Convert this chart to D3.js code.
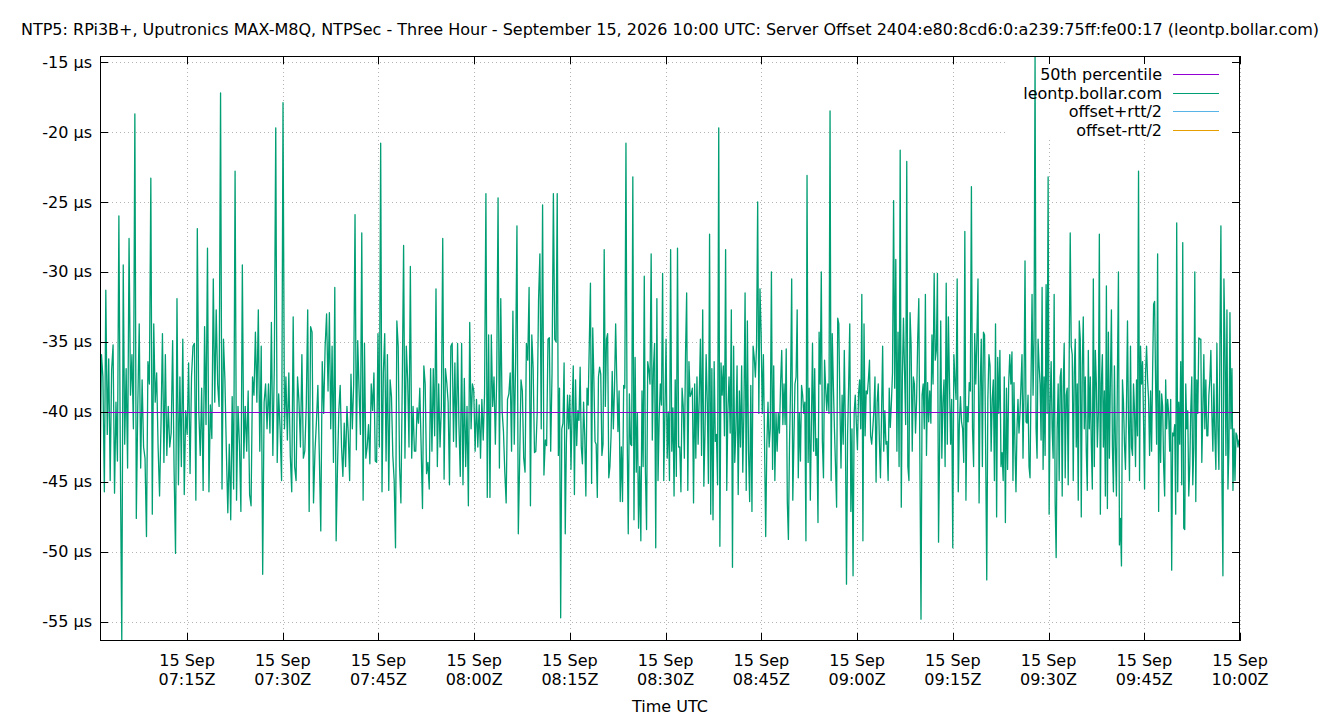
<!DOCTYPE html>
<html>
<head>
<meta charset="utf-8">
<script src="https://cdn.jsdelivr.net/npm/d3@7"></script>
<style>
  body { margin: 0; background: #fff; }
  text { font-family: "DejaVu Sans", sans-serif; font-size: 16px; fill: #000; }
</style>
</head>
<body>
<svg id="chart" width="1340" height="720"></svg>
<script>
const title = "NTP5: RPi3B+, Uputronics MAX-M8Q, NTPSec - Three Hour - September 15, 2026 10:00 UTC: Server Offset 2404:e80:8cd6:0:a239:75ff:fe00:17 (leontp.bollar.com)";
const seriesNames = ["50th percentile", "leontp.bollar.com", "offset+rtt/2", "offset-rtt/2"];
const seriesColors = ["#9400d3", "#009e73", "#56b4e9", "#e69f00"];

// offset samples (µs) in five consecutive time blocks
const blockStarts = ["2026-09-15T07:01:22Z", "2026-09-15T07:37:06Z", "2026-09-15T08:12:50Z", "2026-09-15T08:48:33Z", "2026-09-15T09:24:16Z", "2026-09-15T10:00:00Z"];

const block1 = [-45.5, -35.9, -37.5, -45.7, -31.3, -41.6, -36.2, -44.9, -37.0, -35.2, -45.8, -39.3, -43.5, -26.0, -43.3, -56.36, -29.5, -42.3, -36.9, -44.0,
  -27.6, -38.8, -35.9, -41.2, -18.7, -47.6, -39.6, -33.7, -44.0, -37.7, -42.5, -43.3, -48.9, -36.4, -38.0, -23.3, -47.3, -33.7, -39.3, -37.2,
  -42.5, -46.0, -40.9, -34.4, -43.6, -35.9, -43.1, -39.6, -42.5, -41.5, -34.9, -44.1, -50.1, -31.9, -45.2, -37.5, -43.9, -34.8, -45.9, -39.9,
  -41.6, -36.5, -44.4, -37.5, -35.3, -35.1, -46.3, -26.9, -39.9, -43.1, -38.3, -45.6, -33.9, -40.9, -28.3, -45.7, -39.5, -41.9, -30.5, -39.3,
  -32.7, -38.0, -39.6, -17.2, -45.5, -34.8, -37.7, -42.8, -47.2, -42.3, -47.7, -38.9, -45.5, -22.8, -46.3, -39.6, -42.3, -47.1, -29.5, -43.3,
  -39.6, -42.8, -38.5, -45.9, -46.7, -37.5, -38.8, -34.3, -39.3, -32.7, -42.8, -35.3, -51.6, -39.3, -38.0, -41.2, -38.0, -41.5, -33.6, -43.1,
  -36.9, -19.7, -43.6, -38.7, -41.2, -44.9, -17.9, -41.2, -37.5, -42.0, -37.2, -43.1, -45.7, -33.2, -43.9, -44.9, -37.5, -39.3, -42.5, -35.9,
  -43.3, -42.8, -39.6, -32.7, -47.1, -33.9, -34.3, -46.5, -42.8, -40.7, -38.1, -43.1, -48.5, -36.4, -40.1, -35.3, -33.0];

const block2 = [-38.5, -32.9, -41.2, -35.3, -43.6, -31.1, -49.2, -44.0, -39.9, -38.1, -42.5, -44.6, -40.8, -43.9, -39.6, -41.6, -44.9, -37.3, -41.2, -38.0,
  -25.9, -42.7, -34.9, -38.5, -41.6, -27.2, -46.3, -35.1, -43.3, -42.5, -40.9, -43.7, -38.0, -39.9, -37.2, -43.5, -43.6, -34.4, -42.5, -20.8,
  -45.7, -37.2, -34.4, -43.5, -35.9, -45.6, -37.7, -38.9, -43.1, -44.9, -49.7, -33.5, -35.3, -43.9, -46.5, -38.0, -28.1, -43.3, -35.3, -37.7,
  -42.5, -29.6, -43.3, -39.6, -42.8, -42.8, -39.7, -40.8, -38.3, -42.5, -46.9, -36.7, -38.0, -44.4, -43.6, -45.5, -36.9, -42.8, -36.9, -41.7,
  -31.2, -43.9, -38.0, -42.5, -39.6, -27.6, -44.8, -36.9, -37.9, -39.3, -45.2, -35.3, -35.1, -42.1, -36.5, -42.5, -35.1, -40.9, -44.6, -35.1,
  -45.2, -37.6, -43.9, -39.6, -46.7, -33.6, -41.2, -38.0, -38.5, -42.8, -39.1, -42.5, -39.5, -43.3, -39.1, -42.0, -38.7, -24.4, -46.1, -34.5,
  -46.1, -34.5, -39.6, -37.5, -42.3, -37.5, -24.7, -44.0, -31.9, -39.9, -41.4, -44.3, -46.5, -39.1, -38.7, -37.2, -42.8, -32.8, -42.3, -36.5,
  -26.7, -48.7, -43.6, -37.7, -38.5, -43.3, -44.3, -35.1, -36.3, -31.1, -46.7, -34.5, -36.9, -42.9, -42.8, -40.1, -32.0, -28.7, -41.2, -25.2,
  -44.5, -42.0, -42.4, -34.8, -34.7, -42.8, -37.2, -24.4, -34.8];

const block3 = [-35.0, -24.4, -43.1, -38.3, -54.7, -41.2, -40.8, -36.5, -48.7, -42.2, -38.8, -41.2, -38.8, -44.1, -39.9, -36.7, -45.9, -37.7, -42.4, -39.9,
  -40.6, -36.8, -42.5, -43.7, -39.3, -41.7, -46.0, -38.3, -39.5, -35.1, -30.8, -45.1, -34.0, -37.7, -42.1, -42.3, -46.1, -37.5, -36.8, -37.3,
  -43.1, -42.3, -28.4, -39.6, -34.8, -34.4, -44.7, -43.9, -41.7, -37.1, -41.2, -38.3, -33.7, -37.7, -41.4, -38.5, -46.4, -42.5, -46.4, -38.1,
  -38.3, -20.8, -41.2, -48.7, -38.7, -42.3, -42.4, -23.2, -47.7, -36.1, -44.3, -40.1, -48.3, -43.9, -49.2, -38.5, -43.9, -30.3, -44.3, -48.4,
  -36.4, -37.0, -38.0, -28.7, -42.0, -36.9, -35.1, -49.7, -31.9, -44.9, -40.5, -38.0, -39.5, -30.1, -44.9, -40.1, -34.8, -43.3, -40.0, -44.9,
  -28.4, -42.8, -39.7, -46.0, -37.7, -44.6, -28.3, -42.5, -42.5, -45.7, -38.3, -39.6, -43.3, -35.9, -31.5, -45.6, -36.4, -38.9, -38.7, -38.3,
  -46.5, -38.0, -43.3, -37.5, -42.3, -38.9, -34.8, -43.1, -32.7, -45.3, -41.5, -35.9, -39.3, -45.1, -27.3, -47.3, -36.9, -47.7, -36.4, -42.1,
  -41.6, -45.2, -19.7, -49.6, -36.5, -38.8, -36.7, -41.7, -28.4, -45.6, -39.9, -37.5, -41.5, -32.7, -51.1, -35.3, -43.6, -41.2, -36.7, -45.9,
  -38.5, -42.5, -36.7, -44.3, -39.9, -31.5, -45.6, -33.5, -42.8, -46.4, -38.1, -47.1, -35.3, -36.1, -37.5, -35.3, -25.0, -40.1, -31.2, -34.3,
  -40.1, -35.9, -42.3, -48.9, -42.3, -39.3, -42.5, -41.2, -30.0, -44.1, -36.7, -44.9, -40.1, -42.8, -40.1, -41.5, -38.0, -35.6, -40.9];

const block4 = [-38.0, -40.9, -35.5, -46.4, -49.1, -42.3, -38.1, -30.5, -46.3, -42.1, -38.0, -37.5, -32.7, -44.7, -40.1, -43.5, -38.1, -38.8, -40.1, -39.3,
  -49.2, -23.1, -43.6, -38.3, -46.3, -40.8, -35.1, -42.8, -36.9, -43.1, -41.9, -47.9, -34.3, -38.0, -30.0, -42.1, -44.7, -36.3, -38.3, -39.9,
  -38.0, -40.1, -18.5, -44.9, -34.4, -38.0, -41.2, -43.9, -46.8, -33.3, -33.7, -39.5, -44.0, -38.8, -42.3, -35.6, -41.2, -52.3, -41.7, -38.0,
  -33.7, -47.1, -41.2, -51.7, -40.1, -38.8, -40.8, -42.7, -38.7, -37.7, -41.2, -31.6, -49.2, -33.7, -41.7, -38.5, -38.7, -37.7, -36.3, -41.7,
  -42.3, -41.2, -39.9, -37.5, -45.0, -39.3, -38.0, -42.0, -44.7, -40.1, -35.3, -42.8, -39.9, -42.3, -42.1, -44.9, -38.3, -41.1, -39.3, -37.2,
  -24.9, -38.3, -29.1, -42.8, -34.3, -43.9, -21.3, -46.8, -37.5, -33.3, -37.2, -40.9, -22.1, -43.9, -44.9, -32.9, -35.3, -42.8, -37.5, -38.0,
  -41.5, -39.1, -34.8, -31.9, -43.6, -54.8, -38.8, -38.0, -41.2, -31.6, -43.1, -37.9, -40.7, -38.5, -40.8, -34.5, -38.0, -30.1, -36.3, -35.6,
  -30.1, -49.3, -42.3, -33.5, -43.3, -39.3, -37.7, -43.9, -30.8, -42.3, -33.2, -38.0, -42.3, -39.1, -49.7, -35.9, -37.7, -39.1, -30.5, -45.7,
  -40.9, -38.9, -40.7, -41.2, -43.6, -27.1, -46.3, -39.6, -40.7, -37.9, -38.5, -23.9, -41.2, -43.9, -34.4, -38.0, -34.8, -30.5, -46.5, -38.3,
  -34.8, -43.9, -34.3, -34.5, -42.8, -52.0, -39.1, -35.9, -36.7, -42.8, -39.1, -37.7, -44.9, -33.7, -47.5, -36.1, -40.1, -35.6, -43.9, -42.9,
  -44.9, -37.5, -47.9, -38.3, -44.1, -38.0, -35.9, -38.0];

const block5 = [-35.7, -44.9, -37.9, -42.5, -45.7, -41.2, -39.1, -41.5, -40.1, -38.0, -35.9, -43.3, -38.5, -29.2, -40.7, -40.8, -38.8, -43.9, -44.7, -37.7,
  -31.6, -38.8, -34.8, -14.57, -41.2, -43.3, -34.8, -36.7, -38.0, -42.0, -31.1, -44.1, -37.5, -43.1, -30.9, -40.1, -23.2, -47.3, -39.6, -36.4,
  -41.2, -43.3, -31.6, -46.5, -50.4, -41.2, -38.0, -44.9, -37.5, -36.9, -46.0, -38.3, -35.1, -44.7, -38.8, -38.3, -45.2, -35.9, -27.2, -35.3,
  -35.9, -44.9, -37.2, -34.8, -42.5, -38.0, -46.3, -33.5, -34.8, -47.5, -36.7, -33.2, -41.2, -37.5, -42.8, -45.6, -35.6, -41.2, -37.5, -42.3,
  -45.5, -30.5, -43.9, -35.6, -38.0, -42.5, -40.1, -27.3, -47.3, -38.0, -35.9, -42.5, -38.5, -46.0, -31.0, -46.9, -34.3, -43.3, -37.7, -32.7,
  -42.5, -45.7, -36.7, -42.5, -46.0, -37.2, -30.0, -49.5, -47.6, -51.0, -37.7, -39.3, -42.3, -44.1, -39.6, -33.5, -40.7, -44.9, -35.3, -42.5,
  -43.1, -38.0, -39.9, -43.9, -37.7, -41.7, -22.8, -44.9, -35.3, -38.0, -36.4, -40.7, -45.5, -37.2, -35.3, -37.7, -39.1, -43.1, -38.5, -42.8,
  -37.2, -32.3, -32.1, -38.0, -42.3, -28.7, -47.1, -38.5, -43.6, -38.7, -39.6, -43.9, -46.0, -37.7, -41.2, -39.1, -40.1, -42.8, -39.1, -51.3,
  -41.5, -41.7, -40.9, -47.3, -26.5, -45.7, -39.3, -42.3, -36.4, -45.2, -27.9, -48.3, -48.4, -38.0, -41.2, -39.9, -46.0, -43.9, -39.9, -37.5,
  -45.2, -42.5, -30.0, -46.4, -37.7, -40.1, -34.7, -34.8, -34.8, -43.6, -39.9, -35.9, -41.2, -37.7, -41.7, -41.7, -38.8, -37.7, -35.6, -40.1,
  -42.8, -38.0, -41.7, -44.1, -35.1, -41.2, -44.1, -35.3, -26.7, -44.7, -51.7, -30.5, -35.1, -43.1, -32.7, -45.5, -42.5, -32.9, -41.2, -36.9,
  -45.6, -41.2, -44.9, -41.5, -41.7, -42.5, -42.0, -42.5];

const percentile50 = -39.98;
const xTickTimes = ["07:15", "07:30", "07:45", "08:00", "08:15", "08:30", "08:45", "09:00", "09:15", "09:30", "09:45", "10:00"];
const yTicks = [-15, -20, -25, -30, -35, -40, -45, -50, -55];

const svg = d3.select('#chart');
const W = 1340, H = 720;
const plot = { left: 100, right: 1240, top: 56, bottom: 641 };

// build timestamped samples, evenly spaced inside each block
const blocks = [block1, block2, block3, block4, block5];
const samples = [];
blocks.forEach((vals, k) => {
    const t0 = new Date(blockStarts[k]).getTime();
    const t1 = new Date(blockStarts[k + 1]).getTime();
    const div = k === blocks.length - 1 ? vals.length - 1 : vals.length;
    vals.forEach((v, j) => samples.push({ t: new Date(t0 + (t1 - t0) * j / div), v }));
});

const x = d3.scaleUtc()
    .domain(d3.extent(samples, d => d.t))
    .range([plot.left, plot.right]);
const y = d3.scaleLinear()
    .domain(d3.extent(samples, d => d.v))
    .range([plot.bottom, plot.top]);

const tickDates = xTickTimes.map(s => new Date('2026-09-15T' + s + ':00Z'));

// title
svg.append('text')
    .attr('x', W / 2).attr('y', 35)
    .attr('text-anchor', 'middle')
    .text(title);

// grid
const grid = svg.append('g')
    .attr('stroke', '#b4b4b4')
    .attr('stroke-width', 1)
    .attr('stroke-dasharray', '1,3');
yTicks.forEach(v => {
    grid.append('line')
        .attr('x1', plot.left).attr('x2', plot.right)
        .attr('y1', Math.round(y(v)) + 0.5).attr('y2', Math.round(y(v)) + 0.5);
});
tickDates.forEach(d => {
    grid.append('line')
        .attr('x1', Math.round(x(d)) + 0.5).attr('x2', Math.round(x(d)) + 0.5)
        .attr('y1', plot.top).attr('y2', plot.bottom);
});

// key area keeps the grid out
const key = { x: 1008, y: plot.top + 1, w: 221, h: 82 };
svg.append('rect')
    .attr('x', key.x).attr('y', key.y)
    .attr('width', key.w).attr('height', key.h)
    .attr('fill', '#fff');

// clip for data
svg.append('defs').append('clipPath').attr('id', 'plotclip')
    .append('rect')
    .attr('x', plot.left).attr('y', plot.top)
    .attr('width', plot.right - plot.left).attr('height', plot.bottom - plot.top);

const line = d3.line()
    .x(d => x(d.t))
    .y(d => y(d.v));

svg.append('path')
    .datum(samples)
    .attr('clip-path', 'url(#plotclip)')
    .attr('fill', 'none')
    .attr('stroke', seriesColors[1])
    .attr('stroke-width', 1.3)
    .attr('stroke-linejoin', 'round')
    .attr('d', line);

// 50th percentile
const p50y = Math.round(y(percentile50)) + 0.5;
svg.append('line')
    .attr('x1', plot.left).attr('x2', plot.right)
    .attr('y1', p50y).attr('y2', p50y)
    .attr('stroke', seriesColors[0])
    .attr('stroke-width', 1);

// frame
svg.append('rect')
    .attr('x', plot.left + 0.5).attr('y', plot.top + 0.5)
    .attr('width', plot.right - plot.left - 1).attr('height', plot.bottom - plot.top - 1)
    .attr('fill', 'none')
    .attr('stroke', '#000')
    .attr('stroke-width', 1);

// ticks (mirrored)
const ticks = svg.append('g').attr('stroke', '#000').attr('stroke-width', 1);
const tl = 8;
tickDates.forEach(d => {
    const px = Math.round(x(d)) + 0.5;
    ticks.append('line').attr('x1', px).attr('x2', px).attr('y1', plot.bottom).attr('y2', plot.bottom - tl);
    ticks.append('line').attr('x1', px).attr('x2', px).attr('y1', plot.top).attr('y2', plot.top + tl);
});
yTicks.forEach(v => {
    const py = Math.round(y(v)) + 0.5;
    ticks.append('line').attr('x1', plot.left).attr('x2', plot.left + tl).attr('y1', py).attr('y2', py);
    ticks.append('line').attr('x1', plot.right).attr('x2', plot.right - tl).attr('y1', py).attr('y2', py);
});

// tick labels
const fmtTime = d3.utcFormat('%H:%MZ');
const fmtDay = d3.utcFormat('%-d %b');
tickDates.forEach(d => {
    const g = svg.append('g').attr('transform', `translate(${x(d)},0)`);
    g.append('text').attr('y', 666).attr('text-anchor', 'middle').text(fmtDay(d));
    g.append('text').attr('y', 685).attr('text-anchor', 'middle').text(fmtTime(d));
});
yTicks.forEach(v => {
    svg.append('text')
        .attr('x', 92).attr('y', y(v) + 5.5)
        .attr('text-anchor', 'end')
        .text(v + ' µs');
});

svg.append('text')
    .attr('x', 670).attr('y', 712)
    .attr('text-anchor', 'middle')
    .text('Time UTC');

// legend
seriesNames.forEach((name, i) => {
    const ly = Math.round(74 + i * 18.5) + 0.5;
    svg.append('text')
        .attr('x', 1162).attr('y', ly + 5.5)
        .attr('text-anchor', 'end')
        .text(name);
    svg.append('line')
        .attr('x1', 1173).attr('x2', 1219)
        .attr('y1', ly).attr('y2', ly)
        .attr('stroke', seriesColors[i])
        .attr('stroke-width', 1);
});
</script>
</body>
</html>
